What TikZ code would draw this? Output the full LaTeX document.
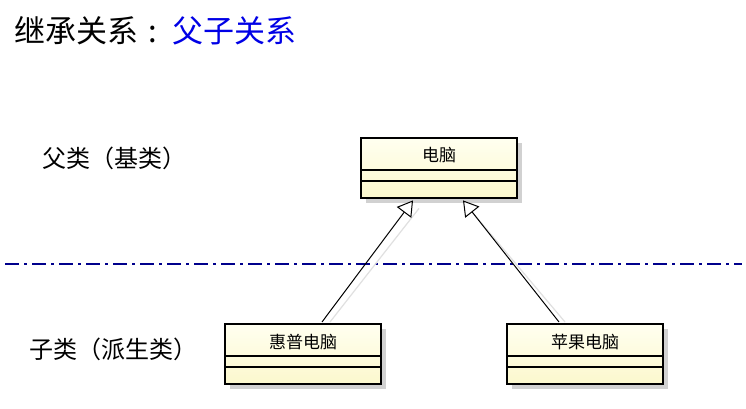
\documentclass[tikz,border=0pt]{standalone}
\usepackage{fontspec}
\newfontfamily\cjk{Noto Sans CJK SC}
\usetikzlibrary{arrows.meta,shadows,calc}
\definecolor{titleblue}{RGB}{0,0,230}
\definecolor{lineblue}{RGB}{0,0,140}
\definecolor{boxtop}{RGB}{255,255,240}
\definecolor{boxbot}{RGB}{252,248,205}
\begin{document}
\begin{tikzpicture}[x=1pt,y=-1pt,
  classbox/.style={draw=black,line width=2.4pt,rectangle,minimum width=156pt,minimum height=60pt,
    anchor=north west,inner sep=0pt,
    top color=boxtop,bottom color=boxbot,
    drop shadow={shadow xshift=5pt,shadow yshift=-5pt,fill=black!18,opacity=1}},
  divider/.style={line width=1.1pt},
  boxtext/.style={font=\cjk\fontsize{17}{19}\selectfont,inner sep=0pt},
  label/.style={font=\cjk\fontsize{24}{26}\selectfont,anchor=west,inner sep=0pt},
  inherit/.style={draw=black,line width=1pt,-{Triangle[open,length=15pt,width=18pt,fill=white,line width=1pt]}},
  inhshadow/.style={draw=black!12,line width=1.2pt},
]
\useasboundingbox[fill=white] (0,0) rectangle (746,409);

% title
\node[anchor=west,inner sep=0pt,font=\cjk\fontsize{31}{33}\selectfont] (title) at (14,31)
  {继承关系\hspace{10pt}:\hspace{16pt}\textcolor{titleblue}{父子关系}};

% side labels
\node[label] (parentlbl) at (42,158) {父类（基类）};
\node[label] (childlbl) at (29,349) {子类（派生类）};

% separator
\coordinate (sepL) at (5,264);
\coordinate (sepR) at (742,264);
\draw[lineblue,line width=1.4pt,dash pattern=on 14pt off 5pt on 3pt off 5pt] (sepL) -- (sepR);

% classes
\node[classbox] (parent) at (360,137) {};
\node[classbox] (hp) at (224,323) {};
\node[classbox] (apple) at (506,323) {};

\foreach \b in {parent,hp,apple}{
  \draw[divider] ($(\b.north west)+(0,33)$) -- ($(\b.north east)+(0,33)$);
  \draw[divider] ($(\b.north west)+(0,44)$) -- ($(\b.north east)+(0,44)$);
}
\node[boxtext] (ptext) at ($(parent.north)+(0,18)$) {电脑};
\node[boxtext] (hptext) at ($(hp.north)+(0,19)$) {惠普电脑};
\node[boxtext] (appletext) at ($(apple.north)+(0,19)$) {苹果电脑};

% inheritance connectors
\coordinate (hpTop) at ($(hp.north west)+(98,-1)$);
\coordinate (appleTop) at ($(apple.north west)+(53,-1)$);
\coordinate (pTip1) at ($(parent.south west)+(53,1)$);
\coordinate (pTip2) at ($(parent.south west)+(103,1)$);
\draw[inhshadow] ($(hpTop)+(8,0)$) -- ($(pTip1)+(6,8)$);
\draw[inhshadow] ($(appleTop)+(6,0)$) -- ($(pTip2)+(6,8)$);
\draw[inherit] (hpTop) -- (pTip1);
\draw[inherit] (appleTop) -- (pTip2);
\end{tikzpicture}
\end{document}
